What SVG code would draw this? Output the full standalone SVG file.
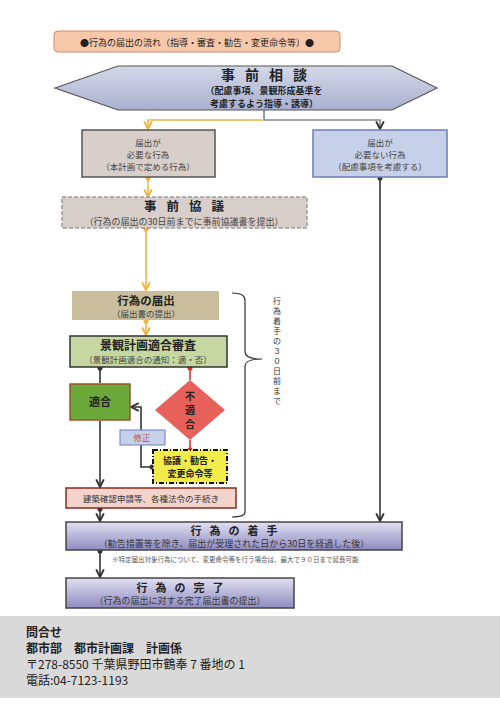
<svg xmlns="http://www.w3.org/2000/svg" width="500" height="707" viewBox="0 0 500 707">
<defs>
<linearGradient id="gHex" x1="0" y1="0" x2="0" y2="1"><stop offset="0" stop-color="#d4d8e8"/><stop offset="1" stop-color="#a9b0cf"/></linearGradient>
<linearGradient id="gPur" x1="0" y1="0" x2="0" y2="1"><stop offset="0" stop-color="#e2e0f2"/><stop offset="1" stop-color="#8e8bc0"/></linearGradient>
<marker id="aO" viewBox="0 0 10 10" refX="9" refY="5" markerWidth="6" markerHeight="6" orient="auto"><path d="M1,1 L9,5 L1,9" fill="none" stroke="#f0b43c" stroke-width="2"/></marker>
<marker id="aD" viewBox="0 0 10 10" refX="9" refY="5" markerWidth="6" markerHeight="6" orient="auto"><path d="M1,1 L9,5 L1,9" fill="none" stroke="#333" stroke-width="2"/></marker>
<marker id="dO" viewBox="0 0 10 10" refX="5" refY="5" markerWidth="4" markerHeight="4"><circle cx="5" cy="5" r="4" fill="#f0b43c"/></marker>
<marker id="dD" viewBox="0 0 10 10" refX="5" refY="5" markerWidth="4" markerHeight="4"><circle cx="5" cy="5" r="4" fill="#333"/></marker>
<marker id="dR" viewBox="0 0 10 10" refX="5" refY="5" markerWidth="4" markerHeight="4"><circle cx="5" cy="5" r="4" fill="#e53030"/></marker>
</defs>
<style>
text{font-family:"Noto Sans CJK JP","Noto Sans",sans-serif;text-anchor:middle;fill:#222}
.b{font-weight:bold}
.s{font-size:8.5px;fill:#444}
.m{font-size:9px}
.ln{fill:none;stroke-width:1.6}
.o{stroke:#f0b43c}
.d{stroke:#333}
.r{stroke:#e53030}
.foot{text-anchor:start;font-size:12px;fill:#222}
</style>
<rect width="500" height="707" fill="#ffffff"/>

<g id="title">
<rect x="54" y="31" width="286" height="21" rx="4" fill="#f8c8aa" stroke="#d08a6a" stroke-width="1"/>
<text x="197" y="45.5" style="font-size:9px">●行為の届出の流れ（指導・審査・勧告・変更命令等）●</text>
</g>

<g id="connectors">
<path class="ln" d="M264,110 V120" stroke="#6b7fb5" stroke-width="3"/>
<path class="ln o" d="M264,120 H148 V129" marker-end="url(#aO)"/>
<path class="ln" d="M264,120 H380 V129" stroke="#888" marker-end="url(#aD)"/>
<path class="ln o" d="M148,178 V197" marker-start="url(#dO)" marker-end="url(#aO)"/>
<path class="ln o" d="M146,229 V290" marker-start="url(#dO)" marker-end="url(#aO)"/>
<path class="ln o" d="M146,321 V335" marker-start="url(#dO)" marker-end="url(#aO)"/>
<path class="ln d" d="M380,178 V521" marker-start="url(#dD)" marker-end="url(#aD)"/>
<path class="ln d" d="M100,383 V368" marker-end="url(#dD)"/>
<path class="ln r" d="M190,368 V380" marker-start="url(#dR)"/>
<path class="ln r" d="M190,440 V450" marker-end="url(#dR)"/>
<path class="ln d" d="M152,467 H141 V407 H131" marker-start="url(#dD)" marker-end="url(#aD)"/>
<path class="ln d" d="M100,421 V487" marker-end="url(#aD)"/>
<path class="ln d" d="M100,509 V521" marker-start="url(#dD)" marker-end="url(#aD)"/>
<path class="ln d" d="M100,551 V577" marker-start="url(#dD)" marker-end="url(#aD)"/>
<path d="M232,293 Q245,293 245,300 V352 Q245,359 262,359 Q245,359 245,366 V512 Q245,517 232,517" fill="none" stroke="#333" stroke-width="1.2"/>
</g>

<g id="soudan">
<polygon points="55,88 118,66 392,66 437,88 392,110 118,110" fill="url(#gHex)" stroke="#555" stroke-width="1.2"/>
<text x="269" y="79.5" class="b" style="font-size:14px;letter-spacing:10px">事前相談</text>
<text x="264" y="93.5" class="b m">（配慮事項、景観形成基準を</text>
<text x="264" y="106.5" class="b m">考慮するよう指導・誘導）</text>
</g>

<g id="hitsuyou">
<rect x="82" y="130" width="133" height="47" fill="#d9cfca" stroke="#555" stroke-width="1.5"/>
<text x="148" y="146" class="s">届出が</text>
<text x="148" y="158" class="s">必要な行為</text>
<text x="148" y="170" class="s">（本計画で定める行為）</text>
</g>

<g id="fuyou">
<rect x="313" y="130" width="134" height="47" fill="#c6d0e8" stroke="#6b7fb5" stroke-width="1.5"/>
<text x="380" y="146" class="s">届出が</text>
<text x="380" y="158" class="s">必要ない行為</text>
<text x="380" y="170" class="s">（配慮事項を考慮する）</text>
</g>

<g id="kyougi">
<rect x="62" y="197" width="245" height="31" fill="#d9cfca" stroke="#999" stroke-width="1.5" stroke-dasharray="4,2"/>
<text x="189" y="211" class="b" style="font-size:12.5px;letter-spacing:10px">事前協議</text>
<text x="184" y="225" class="s" style="font-size:9px">（行為の届出の30日前までに事前協議書を提出）</text>
</g>

<g id="todokede">
<rect x="72" y="291" width="147" height="29" fill="#c9bd9c"/>
<text x="146" y="305" class="b" style="font-size:11.5px">行為の届出</text>
<text x="146" y="317" class="s">（届出書の提出）</text>
</g>

<g id="shinsa">
<rect x="70" y="336" width="157" height="31" fill="#c6d7a2" stroke="#333" stroke-width="1.5"/>
<text x="148" y="350" class="b" style="font-size:12px">景観計画適合審査</text>
<text x="148" y="363" class="s">（景観計画適合の通知：適・否）</text>
</g>

<g id="brace-note">
<text x="277" style="font-size:8px;fill:#333">
<tspan x="277" y="304">行</tspan><tspan x="277" y="314">為</tspan><tspan x="277" y="324">着</tspan><tspan x="277" y="334">手</tspan><tspan x="277" y="344">の</tspan><tspan x="277" y="354">３</tspan><tspan x="277" y="364">０</tspan><tspan x="277" y="374">日</tspan><tspan x="277" y="384">前</tspan><tspan x="277" y="394">ま</tspan><tspan x="277" y="404">で</tspan>
</text>
</g>

<g id="tekigou">
<rect x="70" y="384" width="60" height="36" fill="#6aa83a" stroke="#a0522d" stroke-width="1.5"/>
<text x="100" y="406" class="b" style="font-size:11px">適合</text>
</g>

<g id="futekigou">
<polygon points="190,380 225,410 190,440 155,410" fill="#e8605a"/>
<text x="190" y="400" class="b" style="font-size:10px">不</text>
<text x="190" y="414" class="b" style="font-size:10px">適</text>
<text x="190" y="428" class="b" style="font-size:10px">合</text>
</g>

<g id="shusei">
<rect x="120" y="430" width="45" height="15" fill="#c6d0e8" stroke="#6b7fb5" stroke-width="1"/>
<text x="142" y="441" style="font-size:8.5px;fill:#c0504d">修正</text>
</g>

<g id="kankoku">
<rect x="153" y="450" width="74" height="33" fill="#f2ec4a" stroke="#111" stroke-width="2" stroke-dasharray="5,2,1,2"/>
<text x="190" y="464" class="b" style="font-size:9px">協議・勧告・</text>
<text x="190" y="477" class="b" style="font-size:9px">変更命令等</text>
</g>

<g id="kenchiku">
<rect x="66" y="488" width="170" height="20" fill="#f4d3cc" stroke="#8b2a1a" stroke-width="1.5"/>
<text x="151" y="501.5" style="font-size:8.5px;fill:#333">建築確認申請等、各種法令の手続き</text>
</g>

<g id="chakushu">
<rect x="66" y="522" width="336" height="28" fill="url(#gPur)" stroke="#444" stroke-width="1.5"/>
<text x="238" y="535" class="b" style="font-size:11px;letter-spacing:8px">行為の着手</text>
<text x="234" y="547" style="font-size:9px;fill:#333">（勧告措置等を除き、届出が受理された日から30日を経過した後）</text>
</g>

<text x="112" y="562" style="font-size:6.5px;fill:#555;text-anchor:start">※特定届出対象行為について、変更命令等を行う場合は、最大で９０日まで延長可能</text>

<g id="kanryou">
<rect x="66" y="578" width="228" height="30" fill="url(#gPur)" stroke="#444" stroke-width="1.5"/>
<text x="184" y="592" class="b" style="font-size:11px;letter-spacing:8px">行為の完了</text>
<text x="180" y="604" style="font-size:9px;fill:#333">（行為の届出に対する完了届出書の提出）</text>
</g>

<g id="contact">
<rect x="0" y="616" width="500" height="82" fill="#d9d9d9"/>
<text x="26" y="637" class="foot b">問合せ</text>
<text x="26" y="653" class="foot b">都市部　都市計画課　計画係</text>
<text x="26" y="669" class="foot">〒278-8550 千葉県野田市鶴奉 7 番地の 1</text>
<text x="26" y="685" class="foot">電話:04-7123-1193</text>
</g>
</svg>
